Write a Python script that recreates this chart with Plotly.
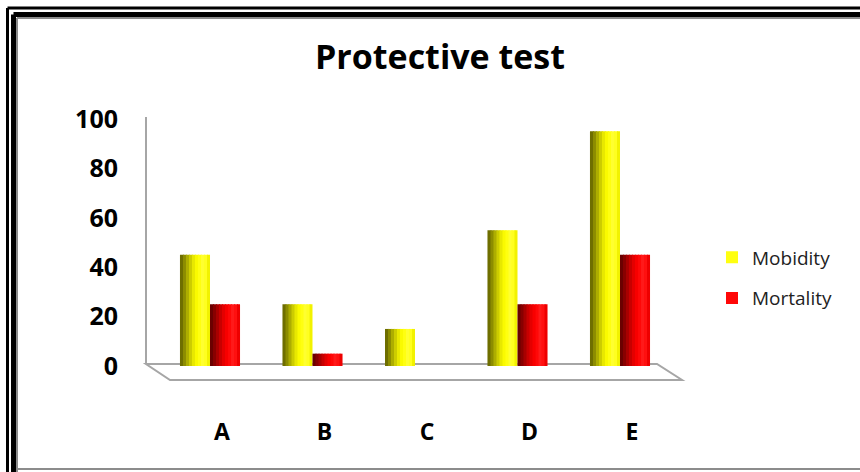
import plotly.graph_objects as go

categories = ["A", "B", "C", "D", "E"]
mobidity = [45, 25, 15, 55, 95]
mortality = [25, 5, 0, 25, 45]
y_ticks = [0, 20, 40, 60, 80, 100]

W, H = 860, 472
def px(x):
    return x / W
def py(y):
    return 1 - y / H

# cylinder-like shading profile (style only)
yellow_shades = ["#6e6e00", "#8c8c00", "#adad00", "#cccc00", "#e8e800",
                 "#fafa00", "#ffff10", "#ffff30", "#ffff20", "#f2f200"]
red_shades = ["#6a0000", "#880000", "#a80000", "#c80000", "#e40000",
              "#f80000", "#ff0808", "#ff1a1a", "#ff1010", "#ee0000"]
N = len(yellow_shades)
bar_w = 0.293
strip = bar_w / N

fig = go.Figure()

def add_series(name, vals, shades, start):
    for i, c in enumerate(shades):
        fig.add_trace(go.Bar(
            x=categories, y=vals, name=name,
            offset=start + i * strip, width=strip * 1.35 if i < N - 1 else strip,
            marker=dict(color=c, line=dict(width=0)),
            showlegend=(i == 6), legendgroup=name,
            hoverinfo="skip" if i != 6 else None,
            xaxis="x", yaxis="y"))

add_series("Mobidity", mobidity, yellow_shades, -bar_w)
add_series("Mortality", mortality, red_shades, 0.0)

# invisible trace carrying the category label axis (front of floor)
fig.add_trace(go.Scatter(x=list(range(len(categories))), y=[None] * len(categories),
                         xaxis="x2", yaxis="y", showlegend=False, hoverinfo="skip"))

shapes = []
gray = "#a6a6a6"
# floor
shapes.append(dict(type="path", xref="paper", yref="paper",
                   path=f"M{px(146)},{py(364)} L{px(657)},{py(364)} L{px(682)},{py(380)} L{px(170)},{py(380)} Z",
                   line=dict(color=gray, width=2), fillcolor="white", layer="below"))
# back wall axis line
shapes.append(dict(type="line", xref="paper", yref="paper",
                   x0=px(146), x1=px(146), y0=py(117), y1=py(364),
                   line=dict(color=gray, width=2), layer="below"))
# frame
shapes += [
    dict(type="line", xref="paper", yref="paper", x0=px(7.5), x1=px(870), y0=py(8), y1=py(8),
         line=dict(color="black", width=3)),
    dict(type="line", xref="paper", yref="paper", x0=px(7.5), x1=px(7.5), y0=py(8), y1=py(480),
         line=dict(color="black", width=3)),
    dict(type="line", xref="paper", yref="paper", x0=px(13.5), x1=px(870), y0=py(14.5), y1=py(14.5),
         line=dict(color="black", width=5)),
    dict(type="line", xref="paper", yref="paper", x0=px(13.5), x1=px(13.5), y0=py(14.5), y1=py(480),
         line=dict(color="black", width=5)),
    dict(type="line", xref="paper", yref="paper", x0=px(17), x1=px(870), y0=py(18), y1=py(18),
         line=dict(color="#8c8c8c", width=2)),
    dict(type="line", xref="paper", yref="paper", x0=px(17), x1=px(17), y0=py(18), y1=py(480),
         line=dict(color="#8c8c8c", width=2)),
    dict(type="line", xref="paper", yref="paper", x0=px(17), x1=px(870), y0=py(469), y1=py(469),
         line=dict(color="#8c8c8c", width=2)),
]

fig.update_layout(
    width=W, height=H,
    margin=dict(l=0, r=0, t=0, b=0, pad=0, autoexpand=False),
    paper_bgcolor="white", plot_bgcolor="rgba(0,0,0,0)",
    barmode="overlay",
    font=dict(family="Open Sans", color="black"),
    title=dict(text="<b>Protective test</b>", x=px(440), xanchor="center",
               y=py(57), yanchor="middle", font=dict(size=34, color="black")),
    xaxis=dict(domain=[px(158.75), px(671.25)], type="category",
               categoryorder="array", categoryarray=categories,
               range=[-0.5, 4.5], showticklabels=False, showline=False,
               showgrid=False, zeroline=False, anchor="y", fixedrange=True),
    xaxis2=dict(domain=[px(170.75), px(683.25)], range=[-0.5, 4.5],
                tickvals=list(range(len(categories))), ticktext=categories,
                showline=False, showgrid=False, zeroline=False, ticks="",
                anchor="free", position=py(416),
                tickfont=dict(size=23, color="black", weight="bold")),
    yaxis=dict(domain=[py(375), py(117)], range=[-3.64, 100.8],
               tickvals=y_ticks, showgrid=False, zeroline=False, showline=False,
               ticks="", anchor="free", position=px(118),
               tickfont=dict(size=25, color="black", weight="bold")),
    legend=dict(x=px(712), y=py(278), yanchor="middle", xanchor="left",
                traceorder="grouped", tracegroupgap=13,
                font=dict(size=19, color="#222222"), bgcolor="rgba(0,0,0,0)"),
    shapes=shapes,
    showlegend=True,
)

fig.write_html("out.html", config={"displayModeBar": False},
               post_script="document.body.style.margin='0';")
